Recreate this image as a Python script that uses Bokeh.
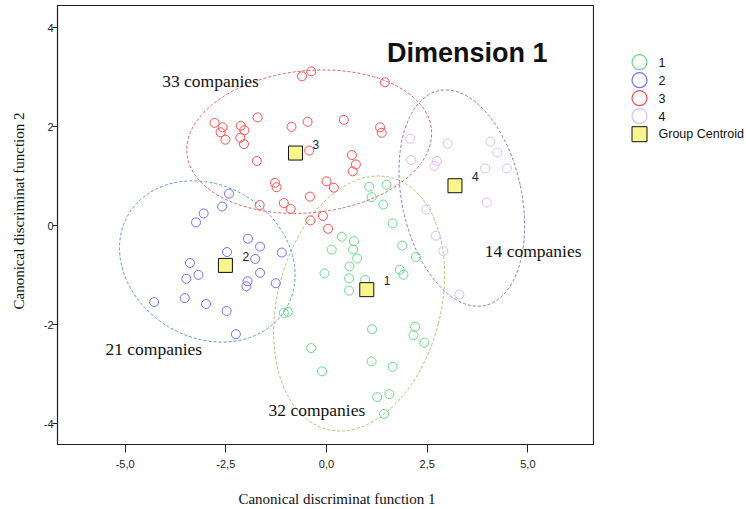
import math
from bokeh.plotting import figure
from bokeh.models import Range1d, FixedTicker, LinearAxis
from bokeh.layouts import row
from bokeh.embed import file_html
from bokeh.resources import INLINE
from bokeh.core.properties import value

# ---------------- data ----------------
groups = ["1", "2", "3", "4"]
group_colors = ["#66dd88", "#7070ff", "#ff4d4d", "#dcbcef"]

g1_x = [1.06, 1.49, 1.12, 1.41, 1.64, 0.38, 0.68, 0.13, 0.66, 0.76, 1.88, 2.22, 0.57, -0.05, 0.56, 0.96,
        0.56, 1.82, 1.91, -1.06, -0.96, 1.13, 2.20, 2.16, 2.43, -0.38, 1.12, -0.11, 1.64, 1.26, 1.56, 1.43]
g1_y = [0.79, 0.83, 0.58, 0.43, 0.05, -0.22, -0.31, -0.48, -0.48, -0.66, -0.40, -0.63, -0.82, -0.96, -1.06, -1.09,
        -1.31, -0.89, -0.99, -1.76, -1.74, -2.09, -2.04, -2.21, -2.36, -2.47, -2.74, -2.94, -2.85, -3.46, -3.40, -3.80]

g2_x = [-2.42, -2.59, -3.05, -3.24, -1.95, -1.65, -1.11, -2.47, -1.77, -3.39, -3.18, -3.48, -1.65, -1.96, -1.99,
        -1.26, -4.28, -3.52, -2.99, -2.48, -2.25]
g2_y = [0.65, 0.39, 0.25, 0.07, -0.26, -0.42, -0.54, -0.53, -0.67, -0.75, -0.99, -1.07, -0.95, -1.12, -1.22,
        -1.16, -1.54, -1.46, -1.58, -1.72, -2.19]

g3_x = [-0.61, -0.38, 1.45, -2.78, -2.58, -2.63, -2.51, -2.13, -2.04, -2.14, -2.05, -1.71, -1.73, -0.87, -0.47,
        0.43, 1.33, 1.37, -0.43, 0.63, 0.73, 0.65, -1.28, -1.24, 0.00, 0.18, -1.66, -1.06, -0.89, -0.41, -0.09,
        -0.40, 0.04]
g3_y = [3.02, 3.12, 2.90, 2.08, 1.99, 1.89, 1.74, 2.02, 1.93, 1.78, 1.65, 2.19, 1.31, 2.00, 2.10,
        2.14, 1.99, 1.88, 1.52, 1.43, 1.24, 1.10, 0.87, 0.78, 0.90, 0.77, 0.42, 0.46, 0.34, 0.59, 0.20,
        0.11, -0.06]

g4_x = [2.08, 3.01, 4.07, 4.24, 2.10, 2.74, 2.68, 3.94, 4.48, 3.98, 2.48, 2.71, 2.90, 3.30]
g4_y = [1.76, 1.66, 1.70, 1.48, 1.33, 1.31, 1.21, 1.16, 1.16, 0.47, 0.33, -0.20, -0.51, -1.39]

centroid_x = [1.00, -2.51, -0.77, 3.19]
centroid_y = [-1.29, -0.80, 1.47, 0.81]
centroid_label = "Group Centroid"

# dispersion ellipses (centre, width, height in data units, angle in rad)
ell_x = [0.81, -2.96, -0.43, 3.36]
ell_y = [-1.57, -0.72, 1.70, 0.56]
ell_w = [4.06, 4.56, 6.10, 2.97]
ell_h = [5.25, 3.07, 2.87, 4.44]
ell_angle = [-0.25, -0.55, 0.10, 0.21]
ell_colors = ["#a9c36a", "#5b97d6", "#e0605f", "#8878c4"]

note_text = ["32 companies", "21 companies", "33 companies", "14 companies"]
note_x = [-1.44, -5.49, -4.08, 3.93]
note_y = [-3.73, -2.48, 2.92, -0.51]

title_text = ["Dimension 1"]
title_x = [1.50]
title_y = [3.49]

x_ticks = [-5.0, -2.5, 0.0, 2.5, 5.0]
x_tick_labels = ["-5,0", "-2,5", "0,0", "2,5", "5,0"]
y_ticks = [-4.0, -2.0, 0.0, 2.0, 4.0]
y_tick_labels = ["-4", "-2", "0", "2", "4"]

x_title = "Canonical discriminat function 1"
y_title = "Canonical discriminat function 2"
x_title_at = 0.26   # centre of the x title (slightly right of the frame centre, as in the original)
y_title_at = 2.29   # upper end of the rotated y title

FIG_H = 509
BORDER_TOP, BORDER_BOTTOM = 5, 65

# ---------------- main plot ----------------
p = figure(width=594, height=FIG_H,
           x_range=Range1d(-6.679, 6.654), y_range=Range1d(-4.418, 4.451),
           output_backend="svg", toolbar_location=None,
           min_border_left=56, min_border_right=0,
           min_border_top=BORDER_TOP, min_border_bottom=BORDER_BOTTOM)
p.grid.visible = False
p.outline_line_color = "#222222"
p.outline_line_width = 1.2
p.background_fill_color = "white"
p.border_fill_color = "white"

for ax, ticks, labels in ((p.xaxis, x_ticks, x_tick_labels), (p.yaxis, y_ticks, y_tick_labels)):
    ax.ticker = FixedTicker(ticks=ticks)
    ax.major_label_overrides = {t: l for t, l in zip(ticks, labels)}
    ax.minor_tick_line_color = None
    ax.major_tick_in = 0
    ax.axis_line_color = "#222222"
    ax.major_tick_line_color = "#222222"
    ax.major_label_text_font = "Liberation Sans"
    ax.major_label_text_font_size = "11px"
    ax.major_label_text_color = "#222222"

p.xaxis.major_tick_out = 8
p.xaxis.major_label_standoff = 7
p.yaxis.major_tick_out = 5
p.yaxis.major_label_standoff = -1

# axis titles: outer helper axes carrying one label each, so they sit where the original has them
def title_axis(pos, text, standoff, orientation):
    ax = LinearAxis(ticker=FixedTicker(ticks=[pos]), major_label_overrides={pos: text},
                    axis_line_color=None, major_tick_line_color=None, minor_tick_line_color=None,
                    major_tick_out=0, major_tick_in=0, major_label_standoff=standoff,
                    major_label_orientation=orientation,
                    major_label_text_font="Liberation Serif", major_label_text_font_size="15px",
                    major_label_text_color="#111111")
    return ax

p.add_layout(title_axis(x_title_at, x_title, 20, "horizontal"), "below")
p.add_layout(title_axis(y_title_at, y_title, 21, math.pi / 2), "left")

p.ellipse(x=ell_x, y=ell_y, width=ell_w, height=ell_h, angle=ell_angle,
          fill_color=None, line_color=ell_colors, line_width=1, line_dash="3 2")

for xs, ys, col in ((g1_x, g1_y, group_colors[0]), (g2_x, g2_y, group_colors[1]),
                    (g3_x, g3_y, group_colors[2]), (g4_x, g4_y, group_colors[3])):
    p.scatter(xs, ys, marker="circle", size=9, fill_color=None, line_color=col, line_width=1)

p.scatter(centroid_x, centroid_y, marker="square", size=14, fill_color="#f8f58c",
          line_color="#111111", line_width=1)
p.text(centroid_x, centroid_y, text=groups, x_offset=17, y_offset=-9,
       text_font=value("Liberation Sans"), text_font_size="12px", text_color="#222222",
       text_baseline="alphabetic", text_align="left")

p.text(note_x, note_y, text=note_text, text_font=value("Liberation Serif"), text_font_size="17.5px",
       text_color="#111111", text_baseline="alphabetic", text_align="left")

p.text(title_x, title_y, text=title_text, text_font=value("Liberation Sans"), text_font_size="27px",
       text_font_style="bold", text_color="#111111", text_baseline="alphabetic", text_align="left")

# ---------------- legend panel (pixel-like coordinates, y downwards) ----------------
leg_left, leg_w = 594, 152
q = figure(width=leg_w, height=FIG_H,
           x_range=Range1d(leg_left, leg_left + leg_w),
           y_range=Range1d(FIG_H - BORDER_BOTTOM, BORDER_TOP),
           output_backend="svg", toolbar_location=None, x_axis_location=None, y_axis_location=None,
           min_border_left=0, min_border_right=0,
           min_border_top=BORDER_TOP, min_border_bottom=BORDER_BOTTOM)
q.grid.visible = False
q.outline_line_color = None
q.border_fill_color = "white"
q.background_fill_color = "white"

leg_labels = groups + [centroid_label]
leg_y = [61.7 + 18 * i for i in range(len(leg_labels))]
leg_mx = [639] * len(leg_labels)
q.scatter(leg_mx[:4], leg_y[:4], marker="circle", size=15, fill_color=None,
          line_color=group_colors, line_width=1.2)
q.scatter(leg_mx[4:], leg_y[4:], marker="square", size=15, fill_color="#f8f58c",
          line_color="#111111", line_width=1)
q.text([658] * len(leg_labels), leg_y, text=leg_labels, text_font=value("Liberation Sans"),
       text_font_size="12.5px", text_color="#111111", text_baseline="middle", text_align="left")

layout = row(p, q)
open("out.html", "w").write(file_html(layout, INLINE))
